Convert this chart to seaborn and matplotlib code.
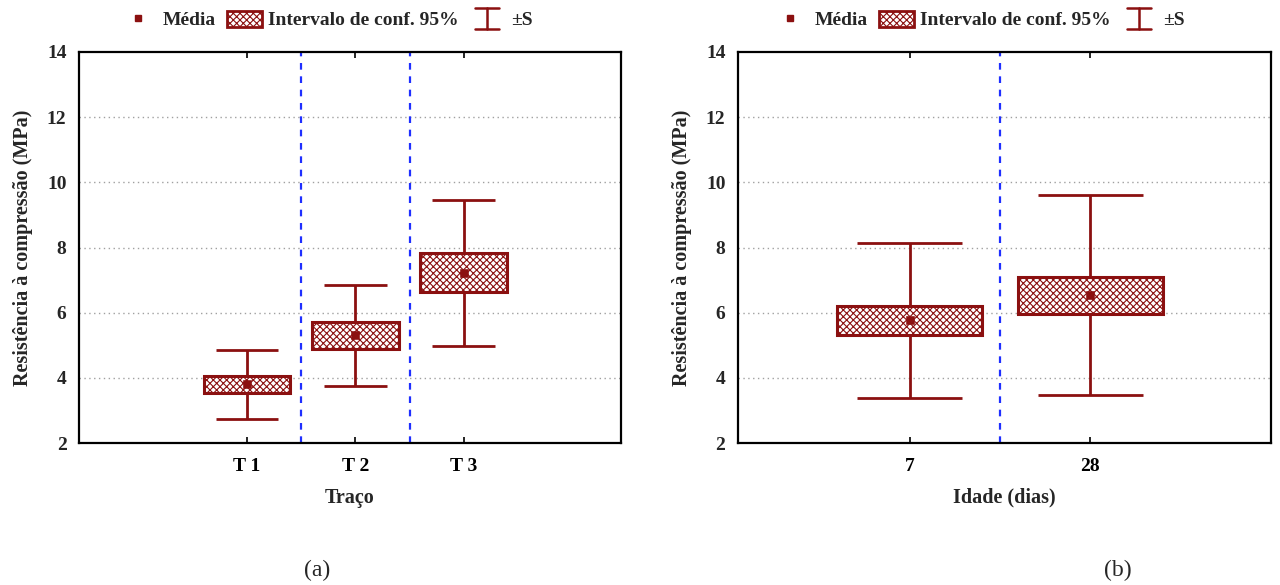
import matplotlib
matplotlib.use("Agg")
import matplotlib.pyplot as plt
from matplotlib.lines import Line2D
from matplotlib.patches import Patch
from matplotlib.legend_handler import HandlerBase
import seaborn as sns
import pandas as pd

# Compressive strength by mix (Traço)
traco_labels = ["T 1", "T 2", "T 3"]
traco_mean = [3.80, 5.31, 7.22]
traco_ci = [0.27, 0.41, 0.60]     # half-width of the 95% confidence interval
traco_sd = [1.05, 1.55, 2.23]     # standard deviation

# Compressive strength by age (days)
idade_labels = ["7", "28"]
idade_mean = [5.76, 6.53]
idade_ci = [0.435, 0.56]
idade_sd = [2.38, 3.07]

yticks = [2, 4, 6, 8, 10, 12, 14]

RED = "#8b1010"
BLUE = "#1f2fff"
SERIF = "Liberation Serif"

sns.set_theme(style="white")
plt.rcParams["font.family"] = [SERIF, "DejaVu Serif"]
plt.rcParams["hatch.linewidth"] = 0.8
plt.rcParams["hatch.color"] = RED


class WhiskerHandle:
    """Marker object for the ±S legend entry."""


class WhiskerHandler(HandlerBase):
    def create_artists(self, legend, orig_handle, xdescent, ydescent, width,
                       height, fontsize, trans):
        x0, x1 = -xdescent + 0.15 * width, -xdescent + 0.85 * width
        xm = 0.5 * (x0 + x1)
        y0, y1 = -ydescent - 0.15 * height, -ydescent + 1.15 * height
        kw = dict(color=RED, lw=1.8, transform=trans)
        return [Line2D([x0, x1], [y1, y1], **kw),
                Line2D([x0, x1], [y0, y0], **kw),
                Line2D([xm, xm], [y0, y1], **kw)]


fig = plt.figure(figsize=(12.8, 5.85), dpi=100)
ax_a = fig.add_axes([79 / 1280, 1 - 443 / 585, 542 / 1280, 391 / 585])
ax_b = fig.add_axes([738 / 1280, 1 - 443 / 585, 533 / 1280, 391 / 585])


def draw_panel(ax, labels, mean, ci, sd, xlim, xlabel, legend_x):
    df = pd.DataFrame({"pos": range(len(labels)), "mean": mean, "ci": ci, "sd": sd})
    df["lo"] = df["mean"] - df["sd"]
    df["hi"] = df["mean"] + df["sd"]

    # horizontal grid
    for y in yticks[1:-1]:
        ax.axhline(y, color="#a0a0a0", ls=(0, (1, 2.5)), lw=1.0, zorder=0)
    # separators between categories
    for k in range(len(labels) - 1):
        ax.axvline(k + 0.5, color=BLUE, ls=(0, (3, 3)), lw=1.6, zorder=1)

    # ±S whiskers
    ax.vlines(df["pos"], df["lo"], df["hi"], color=RED, lw=2, zorder=2)
    ax.hlines(df["hi"], df["pos"] - 0.29, df["pos"] + 0.29, color=RED, lw=2, zorder=2)
    ax.hlines(df["lo"], df["pos"] - 0.29, df["pos"] + 0.29, color=RED, lw=2, zorder=2)

    # 95% confidence boxes
    ax.bar(df["pos"], 2 * df["ci"], bottom=df["mean"] - df["ci"], width=0.8,
           facecolor="white", edgecolor=RED, linewidth=2.2, hatch="xxxxx", zorder=3)

    # means
    sns.scatterplot(data=df, x="pos", y="mean", ax=ax, marker="s", s=28,
                    color=RED, edgecolor=RED, zorder=4, legend=False)

    ax.set_xlim(*xlim)
    ax.set_ylim(2, 14)
    ax.set_yticks(yticks)
    ax.set_yticklabels([str(v) for v in yticks], fontsize=14, fontweight="bold")
    ax.set_xticks(range(len(labels)))
    ax.set_xticklabels(labels, fontsize=14, fontweight="bold")
    ax.tick_params(axis="x", direction="in", length=4, width=1.2, top=True,
                   bottom=True, pad=11, colors="black")
    ax.tick_params(axis="y", length=0, pad=9)
    ax.set_xlabel(xlabel, fontsize=14.5, fontweight="bold", labelpad=9)
    ax.set_ylabel("Resistência à compressão (MPa)", fontsize=14.5,
                  fontweight="bold", labelpad=10)
    for s in ax.spines.values():
        s.set_color("black")
        s.set_linewidth(1.6)

    # legend above the panel
    handles = [
        Line2D([], [], marker="s", markersize=5, color=RED, linestyle="none"),
        Patch(facecolor="white", edgecolor=RED, hatch="xxxxx", linewidth=2),
        WhiskerHandle(),
    ]
    ax.legend(handles, ["Média", "Intervalo de conf. 95%", "±S"],
              loc="center", bbox_to_anchor=(legend_x, 1 - 20 / 585),
              bbox_transform=fig.transFigure, ncol=3, frameon=False,
              handlelength=1.8, handleheight=0.9, handletextpad=0.35,
              columnspacing=0.55, borderpad=0.2,
              handler_map={WhiskerHandle: WhiskerHandler()},
              prop={"family": SERIF, "weight": "bold", "size": 14})


draw_panel(ax_a, traco_labels, traco_mean, traco_ci, traco_sd, (-1.55, 3.45),
           "Traço", 327 / 1280)
draw_panel(ax_b, idade_labels, idade_mean, idade_ci, idade_sd, (-0.95, 2.0),
           "Idade (dias)", 979 / 1280)

fig.text(317 / 1280, 1 - 570 / 585, "(a)", ha="center", va="center", fontsize=17)
fig.text(1118 / 1280, 1 - 570 / 585, "(b)", ha="center", va="center", fontsize=17)

fig.savefig("out.png", dpi=100)
